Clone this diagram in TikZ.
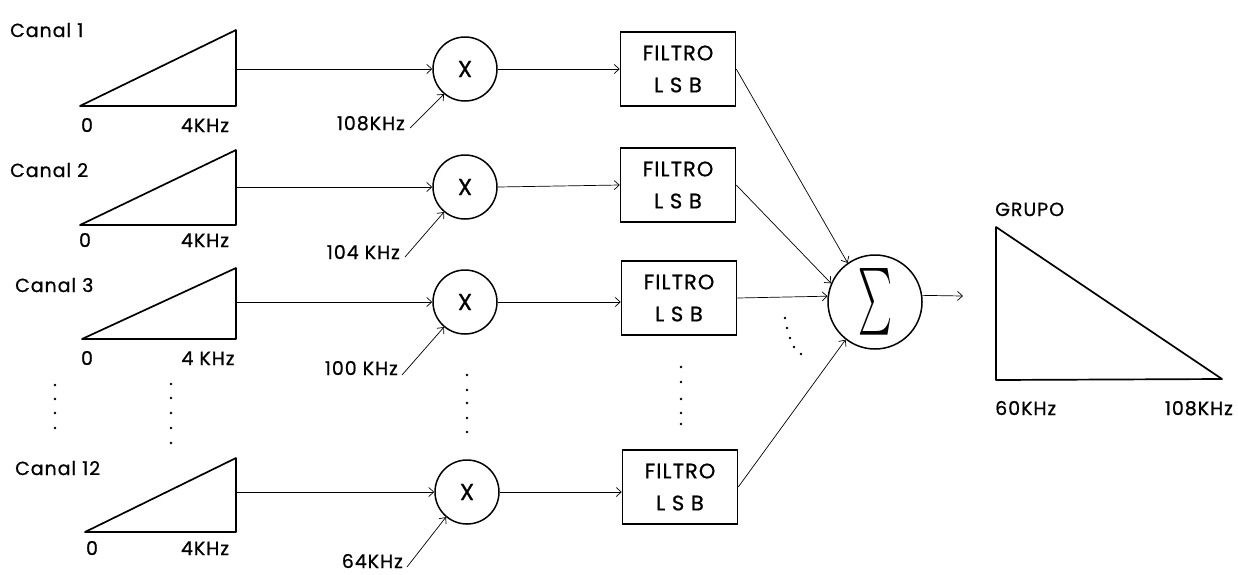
\documentclass[tikz,border=0pt]{standalone}
\usepackage{fontspec}
\setmainfont{Poppins}[LetterSpace=5,FakeBold=0.8]
\usetikzlibrary{arrows.meta}
\begin{document}
\begin{tikzpicture}[x=1pt,y=-1pt,
  lbl/.style={font=\fontsize{19}{21}\selectfont, inner sep=0pt, anchor=base},
  spec/.style={line width=1.7pt, line join=round},
  mix/.style={circle, draw, line width=1.5pt, minimum size=64pt, inner sep=0pt, font=\fontsize{23}{24}\selectfont},
  filt/.style={draw, line width=1.5pt, minimum width=115pt, minimum height=74pt, align=center, inner sep=0pt, font=\fontsize{21}{32}\selectfont},
  sumn/.style={circle, draw, line width=1.5pt, minimum size=94pt, inner sep=0pt},
  conn/.style={line width=0.7pt, -{Straight Barb[length=5pt,width=9pt]}},
  dotn/.style={circle, fill, inner sep=0pt, minimum size=2.6pt}
]
\useasboundingbox (0,0) rectangle (1238,574);

% ---- channel spectra ----
\coordinate (t1a) at (80,106);  \coordinate (t1b) at (236,30);  \coordinate (t1c) at (236,106);
\coordinate (t2a) at (80,225);  \coordinate (t2b) at (236,150); \coordinate (t2c) at (236,225);
\coordinate (t3a) at (82,339);  \coordinate (t3b) at (236,268); \coordinate (t3c) at (236,339);
\coordinate (t4a) at (85,532);  \coordinate (t4b) at (236,458); \coordinate (t4c) at (236,532);
\foreach \i in {1,2,3,4} {\draw[spec] (t\i a) -- (t\i b) -- (t\i c) -- cycle;}

\coordinate (t1o) at (236,69);
\coordinate (t2o) at (236,187);
\coordinate (t3o) at (236,302);
\coordinate (t4o) at (236,492);

\node[lbl, anchor=base west] (c1) at (10,37) {Canal 1};
\node[lbl, anchor=base west] (c2) at (10,177) {Canal 2};
\node[lbl, anchor=base west] (c3) at (15,292) {Canal 3};
\node[lbl, anchor=base west] (c4) at (15,475) {Canal 12};

\node[lbl] (z1) at (87,132) {0};   \node[lbl] (f1) at (205,132) {4KHz};
\node[lbl] (z2) at (85,247) {0};   \node[lbl] (f2) at (205,247) {4KHz};
\node[lbl] (z3) at (87,365) {0};   \node[lbl] (f3) at (208,365) {4 KHz};
\node[lbl] (z4) at (92,555) {0};   \node[lbl] (f4) at (205,555) {4KHz};

% ---- mixers ----
\node[mix] (m1) at (465,69) {X};
\node[mix] (m2) at (465,187) {X};
\node[mix] (m3) at (465,302) {X};
\node[mix] (m4) at (467,492) {X};

\node[lbl, anchor=base east] (o1) at (405,130) {108KHz};
\node[lbl, anchor=base east] (o2) at (400,259) {104 KHz};
\node[lbl, anchor=base east] (o3) at (398,375) {100 KHz};
\node[lbl, anchor=base east] (o4) at (403,568) {64KHz};
\coordinate (p1) at (410,128);
\coordinate (p2) at (405,257);
\coordinate (p3) at (402,375);
\coordinate (p4) at (407,567);

% ---- filters ----
\node[filt] (b1) at (678,69) {FILTRO\\L S B};
\node[filt] (b2) at (678,185) {FILTRO\\L S B};
\node[filt] (b3) at (679,298) {FILTRO\\L S B};
\node[filt] (b4) at (680,487) {FILTRO\\L S B};

% ---- summer ----
\node[sumn] (s) at (875,302) {\resizebox{34pt}{50pt}{$\sum$}};
\coordinate (out) at (963,296);

% ---- connectors ----
\foreach \i in {1,2,3,4} {
  \draw[conn] (t\i o) -- (m\i.west);
  \draw[conn] (p\i) -- (m\i.230);
}
\draw[conn] (m1.east) -- (b1.west);
\draw[conn] (m2.east) -- (b2.west);
\draw[conn] (m3.east) -- (b3.west |- m3.east);
\draw[conn] (m4.east) -- (b4.west |- m4.east);

\draw[conn] (b1.east) -- (s.125);
\draw[conn] (b2.east) -- (s.157);
\draw[conn] (b3.east) -- (s.173);
\draw[conn] (b4.east) -- (s.232);
\draw[conn] (s.8) -- (out);

% ---- group spectrum ----
\coordinate (g1) at (996,227); \coordinate (g2) at (996,380); \coordinate (g3) at (1222,379);
\draw[spec] (g1) -- (g2) -- (g3) -- cycle;
\node[lbl, anchor=base west] (gl) at (995,216) {GRUPO};
\node[lbl, anchor=base west] (g60) at (995,415) {60KHz};
\node[lbl, anchor=base east] (g108) at (1233,415) {108KHz};

% ---- ellipsis dots ----
\foreach \y in {385,399,413,428} {\node[dotn] at (55,\y) {};}
\foreach \y in {384,398,413,428,443} {\node[dotn] at (171,\y) {};}
\foreach \y in {375,390,403,418,432} {\node[dotn] at (467,\y) {};}
\foreach \y in {367,382,399,413,424} {\node[dotn] at (681,\y) {};}
\foreach \p in {(785,318),(787,328),(790,338),(794,347),(801,354)} {\node[dotn] at \p {};}
\end{tikzpicture}
\end{document}
